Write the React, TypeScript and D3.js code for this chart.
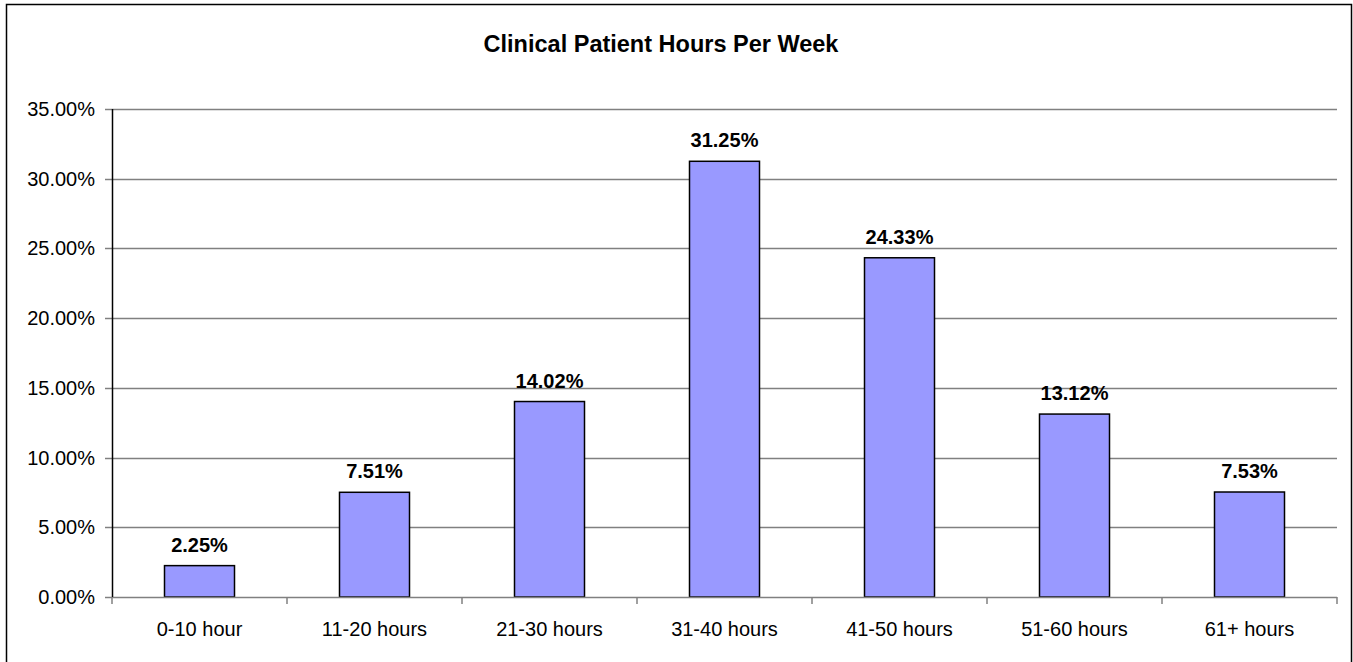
import React from 'react';
import * as d3 from 'd3';

const categories = ['0-10 hour', '11-20 hours', '21-30 hours', '31-40 hours', '41-50 hours', '51-60 hours', '61+ hours'];
const values = [2.25, 7.51, 14.02, 31.25, 24.33, 13.12, 7.53];
const yTicks = [0, 5, 10, 15, 20, 25, 30, 35];

const W = 1353;
const H = 662;
const plot = { left: 112, right: 1337, top: 109, bottom: 597 };

export default function App() {
  const x = d3.scaleBand()
    .domain(categories)
    .range([plot.left, plot.right])
    .paddingInner(0.6)
    .paddingOuter(0.3);
  const band = (plot.right - plot.left) / categories.length;
  const y = d3.scaleLinear().domain([0, 35]).range([plot.bottom, plot.top]);
  const font = 'Arial, "Liberation Sans", sans-serif';

  return (
    <svg width={W} height={H} style={{ position: 'absolute', left: 0, top: 0, display: 'block' }} fontFamily={font}>
      <rect x={0} y={0} width={W} height={H} fill="#fff" />
      <path d={`M6.5,${H} V4.5 H1351.5 V${H}`} fill="none" stroke="#000" strokeWidth={1.5} />
      <text x={661} y={52} textAnchor="middle" fontSize={23.5} fontWeight="bold">Clinical Patient Hours Per Week</text>

      {yTicks.map(t => (
        <g key={t}>
          {t > 0 && <line x1={plot.left} x2={plot.right} y1={Math.round(y(t)) + 0.5} y2={Math.round(y(t)) + 0.5} stroke="#808080" strokeWidth={1.5} />}
          <line x1={plot.left - 7} x2={plot.left} y1={Math.round(y(t)) + 0.5} y2={Math.round(y(t)) + 0.5} stroke="#808080" strokeWidth={1.5} />
          <text x={plot.left - 17} y={y(t) + 7} textAnchor="end" fontSize={20}>{t.toFixed(2)}%</text>
        </g>
      ))}

      {values.map((v, i) => {
        const c = categories[i];
        const bx = x(c) as number;
        return (
          <g key={c}>
            <rect x={bx} y={y(v)} width={x.bandwidth()} height={plot.bottom - y(v)} fill="#9999FF" stroke="#000" strokeWidth={1.5} />
            <text x={bx + x.bandwidth() / 2} y={y(v) - 14} textAnchor="middle" fontSize={20} fontWeight="bold">{v.toFixed(2)}%</text>
            <text x={bx + x.bandwidth() / 2} y={plot.bottom + 39} textAnchor="middle" fontSize={20}>{c}</text>
          </g>
        );
      })}

      {d3.range(categories.length + 1).map(i => (
        <line key={i} x1={plot.left + i * band} x2={plot.left + i * band} y1={plot.bottom} y2={plot.bottom + 7} stroke="#808080" strokeWidth={1.5} />
      ))}
      <line x1={plot.left} x2={plot.right} y1={plot.bottom + 0.5} y2={plot.bottom + 0.5} stroke="#808080" strokeWidth={1.5} />
      <line x1={plot.left + 0.5} x2={plot.left + 0.5} y1={plot.top} y2={plot.bottom} stroke="#000" strokeWidth={1.5} />
    </svg>
  );
}
